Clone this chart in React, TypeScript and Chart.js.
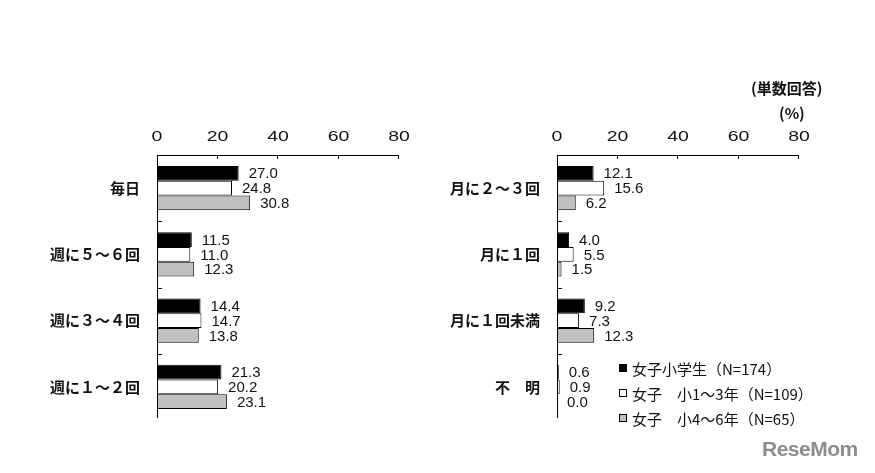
import React, { useEffect, useRef } from "react";
import { Chart, registerables } from "chart.js";

Chart.register(...registerables);

const leftCategories = ["毎日", "週に５～６回", "週に３～４回", "週に１～２回"];
const leftAll = [27.0, 11.5, 14.4, 21.3];
const leftLow = [24.8, 11.0, 14.7, 20.2];
const leftHigh = [30.8, 12.3, 13.8, 23.1];

const rightCategories = ["月に２～３回", "月に１回", "月に１回未満", "不　明"];
const rightAll = [12.1, 4.0, 9.2, 0.6];
const rightLow = [15.6, 5.5, 7.3, 0.9];
const rightHigh = [6.2, 1.5, 12.3, 0.0];

const seriesNames = ["女子小学生（N=174）", "女子　小1～3年（N=109）", "女子　小4～6年（N=65）"];
const seriesColors = ["#000000", "#ffffff", "#c0c0c0"];
const xTicks = [0, 20, 40, 60, 80];

const NUM_FONT = "'Liberation Sans', Arial, sans-serif";
const JP_FONT = "'Noto Sans CJK JP', sans-serif";

const decorPlugin = {
  id: "decor",
  afterDatasetsDraw(chart: any) {
    const ctx = chart.ctx;
    const area = chart.chartArea;
    const xs = chart.scales.x;
    const ys = chart.scales.y;
    ctx.save();
    ctx.strokeStyle = "#000";
    ctx.lineWidth = 1;
    // axis lines
    ctx.beginPath();
    ctx.moveTo(area.left, area.top + 0.5);
    ctx.lineTo(area.right, area.top + 0.5);
    ctx.moveTo(area.left + 0.5, area.top);
    ctx.lineTo(area.left + 0.5, area.bottom - 2);
    ctx.stroke();
    // inward ticks on x axis
    ctx.beginPath();
    xs.ticks.forEach((t: any) => {
      if (t.value === 0) return;
      const px = Math.round(xs.getPixelForValue(t.value)) - 0.5;
      ctx.moveTo(px, area.top);
      ctx.lineTo(px, area.top + 4);
    });
    // inward ticks on y axis between categories
    const n = chart.data.labels.length;
    for (let i = 0; i < n - 1; i++) {
      const py = Math.round((ys.getPixelForValue(i) + ys.getPixelForValue(i + 1)) / 2) + 0.5;
      ctx.moveTo(area.left, py);
      ctx.lineTo(area.left + 5, py);
    }
    ctx.stroke();
    // x tick labels (wide digits)
    ctx.fillStyle = "#111";
    ctx.font = `15px ${NUM_FONT}`;
    ctx.textAlign = "center";
    ctx.textBaseline = "middle";
    xs.ticks.forEach((t: any) => {
      const px = xs.getPixelForValue(t.value);
      ctx.save();
      ctx.translate(px, area.top - 18);
      ctx.scale(1.3, 1);
      ctx.fillText(String(t.value), 0, 0);
      ctx.restore();
    });
    // value labels
    ctx.textAlign = "left";
    chart.data.datasets.forEach((ds: any, di: number) => {
      const meta = chart.getDatasetMeta(di);
      meta.data.forEach((el: any, i: number) => {
        const v = ds.data[i];
        ctx.fillText(Number(v).toFixed(1), el.x + 10, el.y + 1);
      });
    });
    ctx.restore();
  },
};

function makeConfig(labels: string[], a: number[], b: number[], c: number[], yWidth: number, padRight: number, padBottom: number) {
  const mk = (label: string, data: number[], color: string) => ({
    label,
    data,
    backgroundColor: color,
    borderColor: "#000",
    borderWidth: 1,
    borderSkipped: false,
    categoryPercentage: 0.67,
    barPercentage: 1.0,
  });
  return {
    type: "bar" as const,
    data: {
      labels,
      datasets: [mk(seriesNames[0], a, seriesColors[0]), mk(seriesNames[1], b, seriesColors[1]), mk(seriesNames[2], c, seriesColors[2])],
    },
    options: {
      indexAxis: "y" as const,
      responsive: false,
      animation: false as const,
      layout: { padding: { left: 0, top: 0, right: padRight, bottom: padBottom } },
      plugins: { legend: { display: false }, tooltip: { enabled: false } },
      scales: {
        x: {
          position: "top" as const,
          min: 0,
          max: 80,
          afterBuildTicks: (scale: any) => {
            scale.ticks = xTicks.map((v) => ({ value: v }));
          },
          grid: { display: false, drawTicks: false },
          border: { display: false },
          ticks: { display: false },
          afterFit: (scale: any) => {
            scale.height = 155;
          },
        },
        y: {
          grid: { display: false, drawTicks: false },
          border: { display: false },
          ticks: { padding: 17, color: "#111", font: { family: JP_FONT, size: 15, weight: "bold" as const } },
          afterFit: (scale: any) => {
            scale.width = yWidth;
          },
        },
      },
    },
    plugins: [decorPlugin],
  };
}

function BarChart(props: { cfg: any; width: number; height: number; left: number }) {
  const ref = useRef<HTMLCanvasElement>(null);
  useEffect(() => {
    if (!ref.current) return;
    const chart = new Chart(ref.current, props.cfg);
    return () => chart.destroy();
  }, []);
  return (
    <canvas
      ref={ref}
      width={props.width}
      height={props.height}
      style={{ position: "absolute", left: props.left, top: 0, width: props.width, height: props.height }}
    />
  );
}

export default function App() {
  const leftCfg = makeConfig(leftCategories, leftAll, leftLow, leftHigh, 157, 437 - 399, 473 - 420);
  const rightCfg = makeConfig(rightCategories, rightAll, rightLow, rightHigh, 120, 438 - 362, 473 - 420);
  const legendRows = [0, 1, 2];
  return (
    <div style={{ position: "fixed", left: 0, top: 0, width: 875, height: 473, background: "#fff", overflow: "hidden" }}>
      <BarChart cfg={leftCfg} width={437} height={473} left={0} />
      <BarChart cfg={rightCfg} width={438} height={473} left={437} />
      <div style={{ position: "absolute", left: 751, top: 77, font: `bold 15px ${JP_FONT}`, color: "#111", lineHeight: "22px" }}>(単数回答)</div>
      <div style={{ position: "absolute", left: 779, top: 102, font: `bold 15px ${JP_FONT}`, color: "#111", lineHeight: "22px" }}>(%)</div>
      {legendRows.map((i) => (
        <div key={i} style={{ position: "absolute", left: 619, top: 357 + i * 25, height: 22, display: "flex", alignItems: "center", font: `15px ${JP_FONT}`, color: "#111", whiteSpace: "pre" }}>
          <span style={{ display: "inline-block", width: 8, height: 8, boxSizing: "border-box", background: seriesColors[i], border: "1px solid #000", marginRight: 5 }} />
          <span>{seriesNames[i]}</span>
        </div>
      ))}
      <div style={{ position: "absolute", left: 762, top: 437, font: `bold 21px ${NUM_FONT}`, color: "#8c8c8c", letterSpacing: -0.5 }}>ReseMom</div>
    </div>
  );
}
